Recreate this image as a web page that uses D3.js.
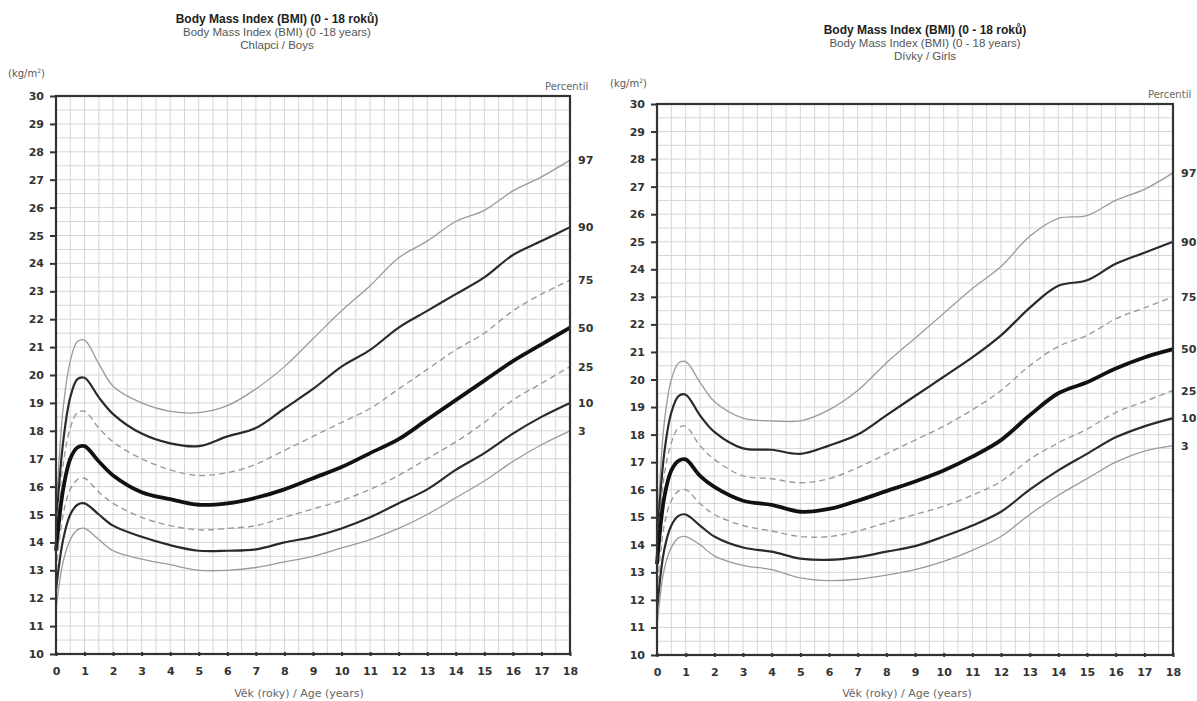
<!DOCTYPE html>
<html><head><meta charset="utf-8">
<script src="https://cdn.jsdelivr.net/npm/d3@7/dist/d3.min.js"></script>
<style>
html,body{margin:0;padding:0;background:#fff;}
svg{display:block;font-family:"DejaVu Sans",Arial,sans-serif;}
</style></head>
<body>
<svg id="c" width="1197" height="701"></svg>
<script>
// ---- data ----
const ages = [0,0.25,0.5,0.75,1,1.5,2,3,4,5,6,7,8,9,10,11,12,13,14,15,16,17,18];
const percentiles = ["97","90","75","50","25","10","3"];
const xTicks = d3.range(0,19);
const yTicks = d3.range(10,31);

const boysP97 = [15.0,18.8,20.5,21.2,21.25,20.4,19.6,19.0,18.7,18.65,18.9,19.5,20.3,21.3,22.3,23.2,24.2,24.8,25.5,25.9,26.6,27.1,27.7];
const boysP90 = [14.5,17.6,19.2,19.85,19.9,19.2,18.6,17.9,17.55,17.45,17.8,18.1,18.8,19.5,20.3,20.9,21.7,22.3,22.9,23.5,24.3,24.8,25.3];
const boysP75 = [14.2,16.8,18.1,18.65,18.7,18.1,17.6,17.0,16.6,16.4,16.5,16.8,17.3,17.8,18.3,18.8,19.5,20.2,20.9,21.5,22.3,22.9,23.4];
const boysP50 = [13.7,15.9,17.0,17.4,17.45,16.9,16.4,15.8,15.55,15.35,15.4,15.6,15.9,16.3,16.7,17.2,17.7,18.4,19.1,19.8,20.5,21.1,21.7];
const boysP25 = [13.0,15.0,15.9,16.25,16.3,15.8,15.4,14.9,14.6,14.45,14.5,14.6,14.9,15.2,15.5,15.9,16.4,17.0,17.6,18.3,19.1,19.7,20.3];
const boysP10 = [12.3,14.1,15.0,15.35,15.4,15.0,14.6,14.2,13.9,13.7,13.7,13.75,14.0,14.2,14.5,14.9,15.4,15.9,16.6,17.2,17.9,18.5,19.0];
const boysP3  = [11.6,13.3,14.1,14.45,14.5,14.1,13.7,13.4,13.2,13.0,13.0,13.1,13.3,13.5,13.8,14.1,14.5,15.0,15.6,16.2,16.9,17.5,18.0];

const girlsP97 = [14.3,18.4,20.0,20.6,20.65,19.9,19.2,18.6,18.5,18.5,18.9,19.6,20.6,21.5,22.4,23.3,24.1,25.2,25.85,25.95,26.5,26.9,27.5];
const girlsP90 = [14.0,17.3,18.8,19.4,19.45,18.7,18.1,17.5,17.45,17.3,17.6,18.0,18.7,19.4,20.1,20.8,21.6,22.6,23.4,23.6,24.2,24.6,25.0];
const girlsP75 = [13.7,16.5,17.7,18.25,18.3,17.6,17.1,16.5,16.4,16.25,16.4,16.8,17.3,17.8,18.3,18.9,19.6,20.5,21.2,21.6,22.2,22.6,23.0];
const girlsP50 = [13.3,15.7,16.7,17.05,17.1,16.5,16.1,15.6,15.45,15.2,15.3,15.6,15.95,16.3,16.7,17.2,17.8,18.7,19.5,19.9,20.4,20.8,21.1];
const girlsP25 = [12.3,14.7,15.6,15.95,16.0,15.5,15.1,14.7,14.5,14.3,14.3,14.5,14.8,15.1,15.4,15.8,16.3,17.1,17.7,18.2,18.8,19.2,19.6];
const girlsP10 = [11.6,13.8,14.7,15.05,15.1,14.7,14.3,13.9,13.75,13.5,13.45,13.55,13.75,13.95,14.3,14.7,15.2,16.0,16.7,17.3,17.9,18.3,18.6];
const girlsP3  = [11.0,13.1,13.9,14.25,14.3,14.0,13.6,13.25,13.1,12.8,12.7,12.75,12.9,13.1,13.4,13.8,14.3,15.1,15.8,16.4,17.0,17.4,17.6];

const boysSeries  = [boysP97,boysP90,boysP75,boysP50,boysP25,boysP10,boysP3];
const girlsSeries = [girlsP97,girlsP90,girlsP75,girlsP50,girlsP25,girlsP10,girlsP3];

const titleCz = "Body Mass Index (BMI) (0 - 18 roků)";
const boysTitleEn = "Body Mass Index (BMI) (0 -18 years)";
const girlsTitleEn = "Body Mass Index (BMI) (0 - 18 years)";
const boysSub = "Chlapci / Boys";
const girlsSub = "Dívky / Girls";
const xTitle = "Věk (roky) / Age (years)";
const rightHeader = "Percentil";

// ---- styles per percentile ----
const styles = {
  "97":{stroke:"#9a9a9a",w:1.3,dash:null},
  "90":{stroke:"#2a2a2a",w:2.2,dash:null},
  "75":{stroke:"#9a9a9a",w:1.4,dash:"6,4"},
  "50":{stroke:"#111",w:3.8,dash:null},
  "25":{stroke:"#9a9a9a",w:1.4,dash:"6,4"},
  "10":{stroke:"#2a2a2a",w:2.2,dash:null},
  "3": {stroke:"#9a9a9a",w:1.3,dash:null}
};

const svg = d3.select("#c");
const FONT = "'DejaVu Sans',Arial,sans-serif";
const TFONT = "'Liberation Sans',Arial,sans-serif";

function drawChart(cfg){
  const g = svg.append("g");
  const x = d3.scaleLinear().domain([0,18]).range([cfg.x0,cfg.x1]);
  const y = d3.scaleLinear().domain([10,30]).range([cfg.yb,cfg.yt]);

  // grid
  const gx = d3.range(0,18.01,0.5), gy = d3.range(10,30.01,0.5);
  g.append("g").selectAll("line").data(gx).join("line")
    .attr("x1",d=>x(d)).attr("x2",d=>x(d)).attr("y1",y(10)).attr("y2",y(30))
    .attr("stroke","#d6d6d6").attr("stroke-width",1);
  g.append("g").selectAll("line").data(gy).join("line")
    .attr("y1",d=>y(d)).attr("y2",d=>y(d)).attr("x1",x(0)).attr("x2",x(18))
    .attr("stroke","#d6d6d6").attr("stroke-width",1);

  // curves
  const line = d3.line().x((d,i)=>x(ages[i])).y(d=>y(d)).curve(d3.curveCatmullRom.alpha(0.5));
  cfg.series.forEach((s,i)=>{
    const st = styles[percentiles[i]];
    g.append("path").attr("d",line(s)).attr("fill","none")
      .attr("stroke",st.stroke).attr("stroke-width",st.w)
      .attr("stroke-dasharray",st.dash).attr("stroke-linejoin","round");
  });

  // frame
  g.append("rect").attr("x",x(0)).attr("y",y(30)).attr("width",x(18)-x(0)).attr("height",y(10)-y(30))
    .attr("fill","none").attr("stroke","#333").attr("stroke-width",2.2);

  // y axis
  const ya = d3.axisLeft(y).tickValues(yTicks).tickSize(6).tickPadding(6).tickFormat(d3.format("d"));
  const yg = g.append("g").attr("transform",`translate(${x(0)},0)`).call(ya);
  yg.select(".domain").remove();
  yg.selectAll(".tick line").attr("stroke","#333").attr("stroke-width",2);
  yg.selectAll(".tick text").attr("font-size",11).attr("font-weight","bold").attr("fill","#333")
    .attr("font-family",FONT);

  // x axis
  const xa = d3.axisBottom(x).tickValues(xTicks).tickSize(4).tickPadding(11).tickFormat(d3.format("d"));
  const xg = g.append("g").attr("transform",`translate(0,${y(10)-2})`).call(xa);
  xg.select(".domain").remove();
  xg.selectAll(".tick line").attr("stroke","#333").attr("stroke-width",2);
  xg.selectAll(".tick text").attr("font-size",11).attr("font-weight","bold").attr("fill","#333")
    .attr("font-family",FONT);

  // percentile labels
  cfg.series.forEach((s,i)=>{
    g.append("text").attr("x",x(18)+8).attr("y",y(s[s.length-1])+4)
      .attr("font-size",11).attr("font-weight","bold").attr("fill","#333")
      .text(percentiles[i]);
  });
  g.append("text").attr("x",x(18)-25).attr("y",y(30)-6).attr("font-size",10).attr("fill","#666")
    .text(rightHeader);

  // unit label
  const u = g.append("text").attr("x",cfg.unitX).attr("y",cfg.unitY).attr("font-size",10).attr("fill","#555");
  u.append("tspan").text("(kg/m");
  u.append("tspan").attr("dy",-4).attr("font-size",6).text("2");
  u.append("tspan").attr("dy",4).text(")");

  // titles
  const cx = cfg.titleX;
  g.append("text").attr("x",cx).attr("y",cfg.titleY).attr("text-anchor","middle").attr("font-family",TFONT)
    .attr("font-size",12).attr("font-weight","bold").attr("fill","#222").text(titleCz);
  g.append("text").attr("x",cx).attr("y",cfg.titleY+13).attr("text-anchor","middle").attr("font-family",TFONT)
    .attr("font-size",11.5).attr("fill","#555").text(cfg.titleEn);
  g.append("text").attr("x",cx).attr("y",cfg.titleY+26).attr("text-anchor","middle").attr("font-family",TFONT)
    .attr("font-size",11.5).attr("fill","#555").text(cfg.sub);

  // x title
  g.append("text").attr("x",cfg.xTitleX).attr("y",697).attr("text-anchor","middle")
    .attr("font-size",11).attr("fill","#666").text(xTitle);
}

drawChart({x0:56,x1:570,yt:96,yb:654,series:boysSeries,titleX:277,titleY:23,
  titleEn:boysTitleEn,sub:boysSub,unitX:8,unitY:77,xTitleX:299});
drawChart({x0:657,x1:1173,yt:104,yb:655,series:girlsSeries,titleX:925,titleY:34,
  titleEn:girlsTitleEn,sub:girlsSub,unitX:610,unitY:87,xTitleX:907});
</script>
</body></html>
